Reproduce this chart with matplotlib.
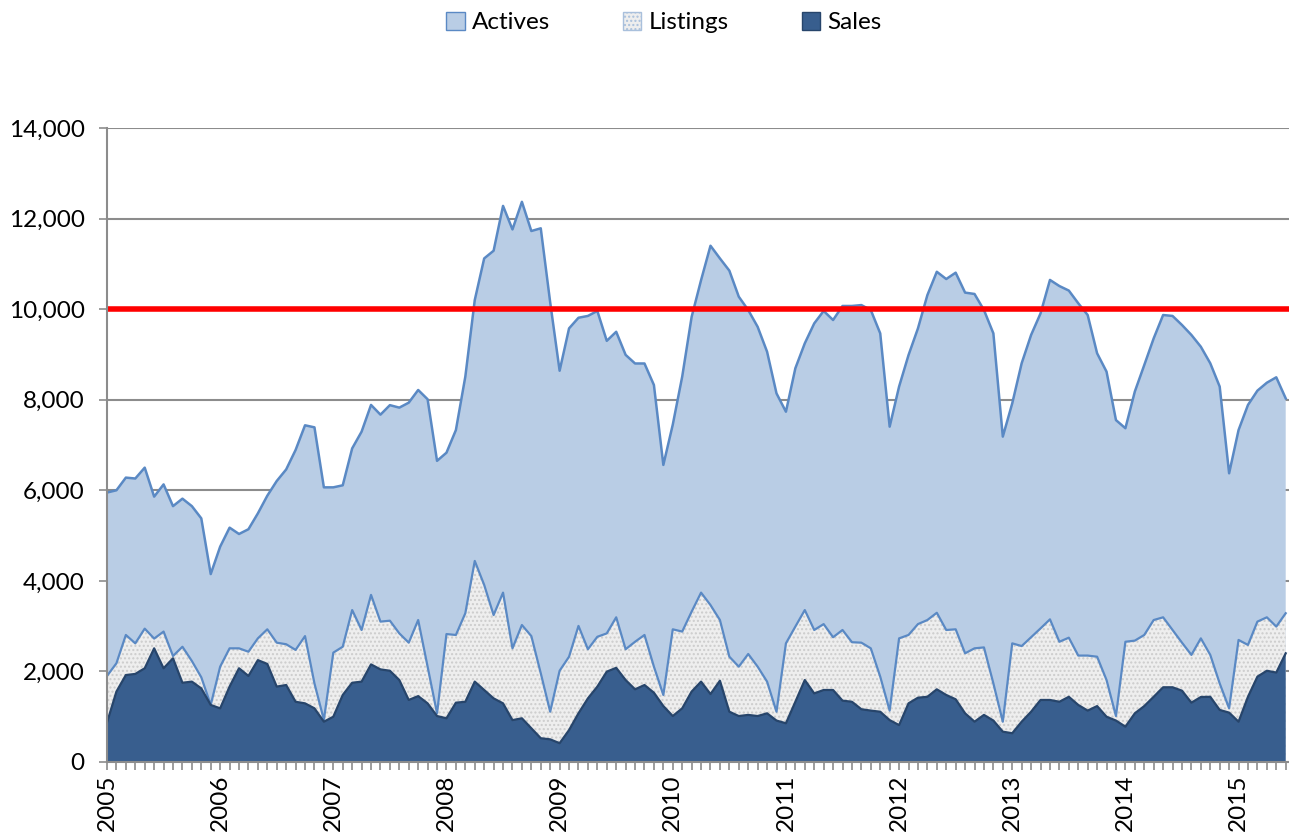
import matplotlib.pyplot as plt
from matplotlib.patches import Patch

# monthly values, Jan 2005 .. Jun 2015
actives = [5950, 6000, 6280, 6260, 6500, 5860, 6130, 5650, 5815, 5650, 5380, 4150,
           4755, 5175, 5035, 5140, 5490, 5880, 6205, 6460, 6890, 7435, 7390, 6065,
           6065, 6110, 6925, 7295, 7885, 7670, 7880, 7825, 7935, 8215, 8010, 6650,
           6830, 7330, 8510, 10200, 11120, 11290, 12280, 11760, 12370, 11725, 11785, 10150,
           8640, 9575, 9810, 9850, 9960, 9300, 9500, 8990, 8800, 8800, 8325, 6560,
           7450, 8510, 9830, 10640, 11400, 11120, 10850, 10275, 9980, 9610, 9060, 8140,
           7735, 8695, 9245, 9685, 9960, 9760, 10070, 10070, 10090, 9980, 9465, 7405,
           8290, 8985, 9575, 10310, 10825, 10665, 10805, 10365, 10335, 9980, 9465, 7185,
           7920, 8805, 9430, 9905, 10645, 10510, 10410, 10130, 9870, 9025, 8620, 7550,
           7370, 8180, 8765, 9355, 9870, 9850, 9650, 9430, 9170, 8805, 8290, 6375,
           7330, 7885, 8200, 8375, 8495, 8030]

listings = [1900, 2180, 2805, 2620, 2945, 2725, 2880, 2340, 2545, 2230, 1870, 1260,
            2105, 2510, 2510, 2435, 2730, 2930, 2635, 2600, 2475, 2780, 1735, 930,
            2415, 2545, 3355, 2915, 3690, 3100, 3120, 2840, 2635, 3135, 2105, 1075,
            2825, 2805, 3285, 4440, 3910, 3245, 3740, 2510, 3025, 2780, 1960, 1110,
            2015, 2325, 3005, 2490, 2765, 2840, 3195, 2490, 2655, 2805, 2105, 1480,
            2930, 2880, 3320, 3740, 3465, 3135, 2325, 2105, 2385, 2105, 1775, 1110,
            2620, 2990, 3355, 2915, 3045, 2755, 2915, 2645, 2635, 2510, 1885, 1135,
            2730, 2805, 3045, 3135, 3295, 2915, 2930, 2400, 2510, 2530, 1735, 890,
            2620, 2560, 2755, 2950, 3150, 2655, 2745, 2350, 2350, 2325, 1810, 1015,
            2655, 2680, 2805, 3135, 3195, 2915, 2635, 2365, 2730, 2365, 1735, 1185,
            2695, 2585, 3100, 3195, 2990, 3285]

sales = [870, 1555, 1920, 1945, 2070, 2510, 2070, 2290, 1750, 1775, 1625, 1260,
         1185, 1665, 2070, 1900, 2250, 2165, 1665, 1700, 1330, 1295, 1185, 890,
         1000, 1480, 1750, 1775, 2155, 2045, 2015, 1810, 1370, 1455, 1295, 1015,
         965, 1310, 1330, 1775, 1590, 1405, 1295, 925, 965, 745, 525, 500,
         415, 705, 1075, 1405, 1665, 1995, 2080, 1810, 1605, 1700, 1530, 1235,
         1015, 1185, 1555, 1775, 1500, 1795, 1110, 1015, 1040, 1015, 1075, 915,
         855, 1330, 1810, 1515, 1590, 1590, 1355, 1330, 1165, 1135, 1110, 925,
         815, 1295, 1420, 1440, 1605, 1480, 1385, 1075, 890, 1040, 915, 670,
         635, 890, 1110, 1370, 1370, 1330, 1440, 1260, 1135, 1235, 1000, 915,
         780, 1075, 1235, 1440, 1650, 1650, 1575, 1310, 1435, 1440, 1150, 1090,
         890, 1440, 1885, 2015, 1975, 2400]

years = ['2005', '2006', '2007', '2008', '2009', '2010', '2011', '2012', '2013', '2014', '2015']
threshold = 10000

plt.rcParams['font.family'] = ['Lato', 'DejaVu Sans']

x = list(range(len(actives)))

fig = plt.figure(figsize=(12.89, 8.32), dpi=100)
ax = fig.add_axes([107 / 1289, 1 - 762 / 832, 1 - 107 / 1289, (762 - 128) / 832])

act_face, act_line = '#b9cde5', '#5a89c4'
lst_face = '#eeeeee'
sal_face, sal_line = '#385e8e', '#27456b'

ax.fill_between(x, 0, actives, facecolor=act_face, linewidth=0, zorder=2)
ax.plot(x, actives, color=act_line, lw=1.8, zorder=3)

ax.fill_between(x, 0, listings, facecolor=lst_face, edgecolor='#cccccc',
                hatch='....', linewidth=0, zorder=4)
ax.plot(x, listings, color=act_line, lw=1.6, zorder=5)

ax.fill_between(x, 0, sales, facecolor=sal_face, linewidth=0, zorder=6)
ax.plot(x, sales, color=sal_line, lw=1.6, zorder=7)

ax.axhline(threshold, color='#ff0000', lw=4, zorder=8)

ax.set_ylim(0, 14000)
ax.set_xlim(0, 125.35)
ax.set_yticks(range(0, 14001, 2000))
ax.set_yticklabels(['{:,}'.format(v) for v in range(0, 14001, 2000)], fontsize=17.5)
ax.set_xticks(range(0, 121, 12))
ax.set_xticklabels(years, rotation=90, fontsize=17.5)
ax.set_xticks(x, minor=True)
ax.grid(axis='y', color='#8c8c8c', lw=1.5, zorder=1)
ax.set_axisbelow(True)

for s in ['top', 'right']:
    ax.spines[s].set_visible(False)
for s in ['left', 'bottom']:
    ax.spines[s].set_color('#8c8c8c')
    ax.spines[s].set_linewidth(1.5)
    ax.spines[s].set_zorder(9)

ax.tick_params(axis='y', direction='out', length=6, width=1.2, color='#8c8c8c', pad=10)
ax.tick_params(axis='x', which='both', direction='out', length=6, width=1.2, color='#8c8c8c', pad=3)

handles = [Patch(facecolor=act_face, edgecolor=act_line, label='Actives'),
           Patch(facecolor=lst_face, edgecolor='#a9c0dc', hatch='....', label='Listings'),
           Patch(facecolor=sal_face, edgecolor=sal_line, label='Sales')]
fig.legend(handles=handles, loc='upper center', bbox_to_anchor=(0.515, 1.012), ncol=3,
           frameon=False, fontsize=17.5, handlelength=0.75, handleheight=0.75,
           handletextpad=0.3, columnspacing=3.0)

fig.savefig('out.png', dpi=100)
